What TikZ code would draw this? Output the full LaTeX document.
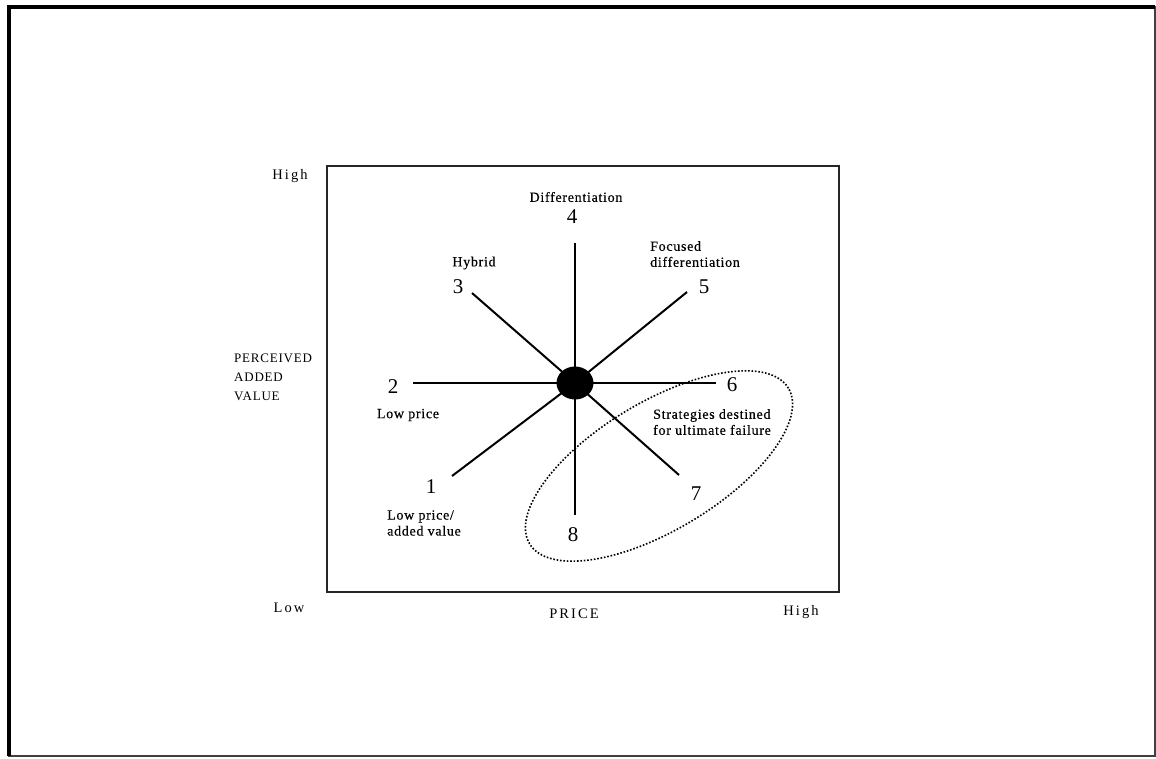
\documentclass[tikz,border=0pt]{standalone}
\usepackage{fontspec}
\setmainfont{Liberation Serif}
\newfontfamily\axfont[LetterSpace=14]{Liberation Serif}
\newfontfamily\vfont[LetterSpace=6]{Liberation Serif}
\newfontfamily\labfont[LetterSpace=5,FakeBold=0.4]{Liberation Serif}
\usetikzlibrary{shapes.geometric}
\tikzset{
  spoke/.style={line width=2},
  numlab/.style={inner sep=0, font=\fontsize{21}{24}\selectfont},
  smalllab/.style={inner sep=0, font=\labfont\fontsize{14}{16}\selectfont, align=left},
  axlab/.style={inner sep=0, font=\axfont\fontsize{14.5}{17}\selectfont},
  vlab/.style={inner sep=0, font=\vfont\fontsize{13}{19}\selectfont, align=left},
}
\begin{document}
\begin{tikzpicture}[x=1pt,y=-1pt]
\useasboundingbox (0,0) rectangle (1156,758);
% outer frame
\draw[line width=1.5, black!75] (9,7) rectangle (1155,756);
\draw[line width=4.5] (9,756) -- (9,7) -- (1155,7);
% inner box
\draw[line width=1.6, black!85] (327,166) rectangle (839,592);
% spoke ends
\coordinate (e1) at (452,476);
\coordinate (e2) at (413,383);
\coordinate (e3) at (472,293);
\coordinate (e4) at (575,243);
\coordinate (e5) at (687,292);
\coordinate (e6) at (716,383);
\coordinate (e7) at (679,475);
\coordinate (e8) at (575,515);
\coordinate (c0) at (575,383);
\foreach \i in {1,...,8} \draw[spoke] (c0) -- (e\i);
\node[ellipse, fill=black, minimum width=37, minimum height=33, inner sep=0] (c) at (c0) {};
% failure ellipse
\node[draw, ellipse, line width=1.6, dash pattern=on 1.6pt off 1.8pt, minimum width=302, minimum height=128, inner sep=0, rotate=31] (fail) at (659,466) {};
% numbers
\node[numlab] (n1) at (431,487) {1};
\node[numlab] (n2) at (393,387) {2};
\node[numlab] (n3) at (458,287) {3};
\node[numlab] (n4) at (572,217) {4};
\node[numlab] (n5) at (704,287) {5};
\node[numlab] (n6) at (732,385) {6};
\node[numlab] (n7) at (696,494) {7};
\node[numlab] (n8) at (573,535) {8};
% labels
\node[smalllab] (l4) at (576,197) {Differentiation};
\node[smalllab] (l3) at (474,263) {Hybrid};
\node[smalllab, anchor=west] (l5) at (650,254) {Focused\\differentiation};
\node[smalllab] (l2) at (408,415) {Low price};
\node[smalllab] (l1) at (424,523) {Low price/\\added value};
\node[smalllab] (lf) at (712,422) {Strategies destined\\for ultimate failure};
% axes
\node[axlab] (hy) at (290,176) {High};
\node[axlab] (ly) at (289,608) {Low};
\node[axlab] (px) at (574,614) {PRICE};
\node[axlab] (hx) at (801,612) {High};
\node[vlab, anchor=west] (pav) at (234,377) {PERCEIVED\\ADDED\\VALUE};
\end{tikzpicture}
\end{document}
